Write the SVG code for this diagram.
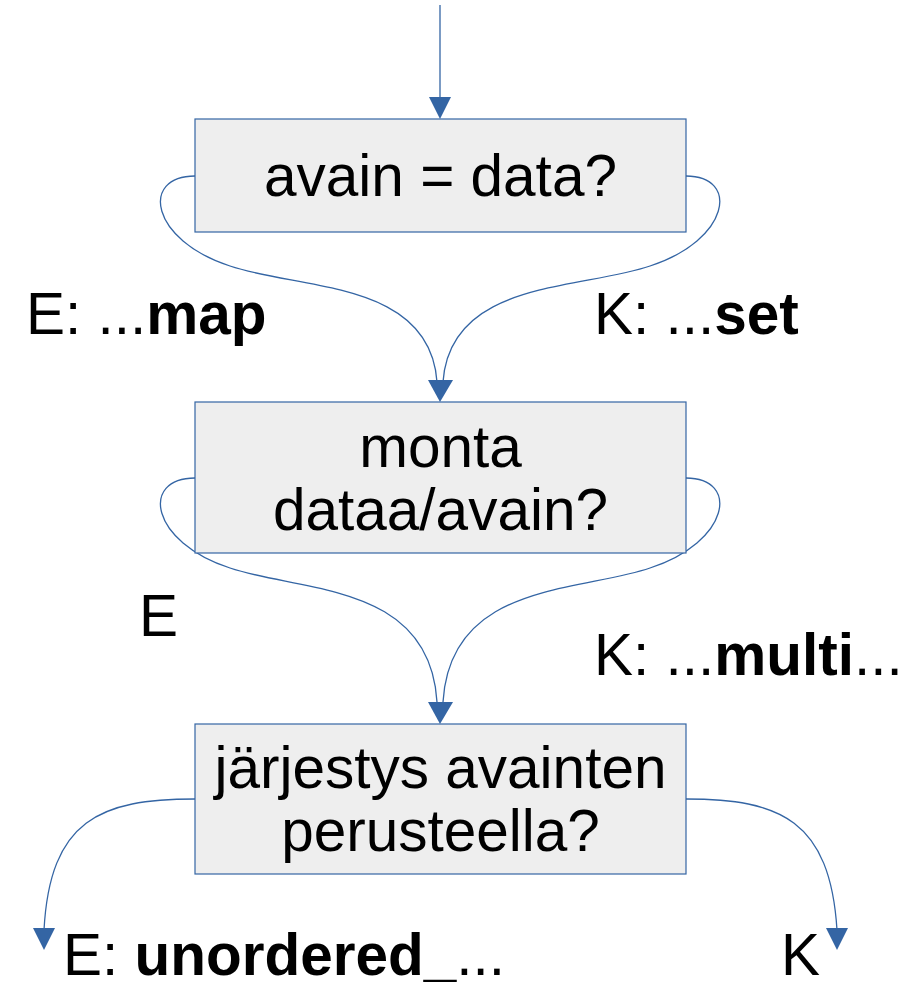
<svg xmlns="http://www.w3.org/2000/svg" width="920" height="983" viewBox="0 0 920 983">
  <style>
    .box { fill: #eeeeee; stroke: #3465a4; stroke-width: 1.2; }
    .edge { fill: none; stroke: #3465a4; stroke-width: 1.3; }
    .head { fill: #3465a4; }
    text { font-family: "Liberation Sans", Arial, sans-serif; font-size: 58.5px; fill: #000000; }
    .c { text-anchor: middle; }
    .b { font-weight: bold; }
  </style>

  <g id="edges">
    <!-- entry arrow -->
    <path class="edge" d="M440,5 V98"/>
    <polygon class="head" points="429,97 451,97 440,119"/>

    <!-- decision 1 to decision 2 -->
    <path class="edge" d="M195,176 C140,176 150,240 230,266 C300,290 430,280 437,382"/>
    <path class="edge" d="M686,176 C740,176 730,240 650,266 C580,290 450,280 443,382"/>
    <polygon class="head" points="428,380 453,380 440,402"/>

    <!-- decision 2 to decision 3 -->
    <path class="edge" d="M195,478 C140,478 150,542 230,568 C300,592 430,582 437,702"/>
    <path class="edge" d="M686,478 C740,478 730,542 650,568 C580,592 450,582 443,702"/>
    <polygon class="head" points="428,702 453,702 440,724"/>

    <!-- decision 3 outcomes -->
    <path class="edge" d="M195,799 C100,799 50,820 44,930"/>
    <polygon class="head" points="33,928 55,928 44,950"/>
    <path class="edge" d="M686,799 C780,799 830,820 837,930"/>
    <polygon class="head" points="826,928 848,928 837,950"/>
  </g>

  <g id="node-avain-data">
    <rect class="box" x="195" y="119" width="491" height="113"/>
    <text class="c" x="440.5" y="196">avain = data?</text>
  </g>

  <g id="node-monta">
    <rect class="box" x="195" y="402" width="491" height="151"/>
    <text class="c" x="440.5" y="467">monta</text>
    <text class="c" x="440.5" y="530">dataa/avain?</text>
  </g>

  <g id="node-jarjestys">
    <rect class="box" x="195" y="724" width="491" height="150"/>
    <text class="c" x="440.5" y="788">järjestys avainten</text>
    <text class="c" x="440.5" y="851">perusteella?</text>
  </g>

  <g id="labels">
    <text x="26" y="334">E: ...<tspan class="b">map</tspan></text>
    <text x="594" y="334">K: ...<tspan class="b">set</tspan></text>
    <text x="139" y="636">E</text>
    <text x="594" y="675">K: ...<tspan class="b">multi</tspan>...</text>
    <text x="63" y="975">E: <tspan class="b">unordered_</tspan>...</text>
    <text x="781" y="975">K</text>
  </g>
</svg>
